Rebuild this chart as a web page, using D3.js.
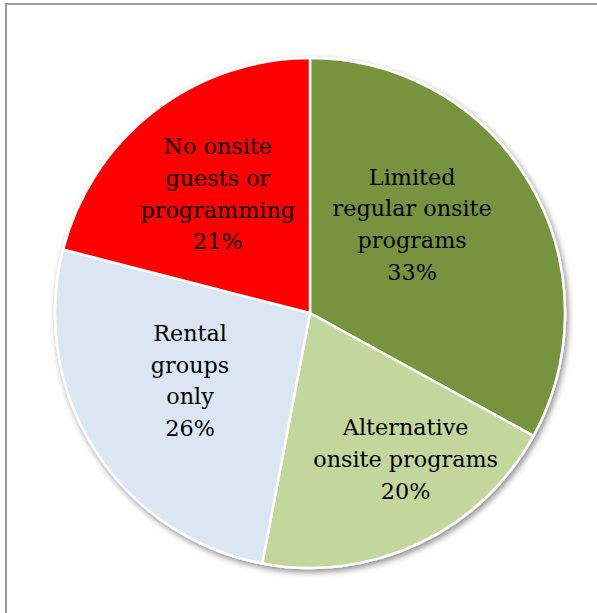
<!DOCTYPE html>
<html>
<head>
<meta charset="utf-8">
<script src="https://cdn.jsdelivr.net/npm/d3@7"></script>
<style>
  html, body { margin: 0; padding: 0; background: #fff; }
  svg { display: block; }
</style>
</head>
<body>
<script>
// ---- data ----
const categories = [
  "Limited regular onsite programs",
  "Alternative onsite programs",
  "Rental groups only",
  "No onsite guests or programming"
];
const values = [33, 20, 26, 21];
const labelLines = [
  ["Limited", "regular onsite", "programs"],
  ["Alternative", "onsite programs"],
  ["Rental", "groups", "only"],
  ["No onsite", "guests or", "programming"]
];
const colors = ["#77933C", "#C3D69B", "#DCE6F2", "#FF0000"];

// ---- layout (not data) ----
const W = 597, H = 613;
const cx = 310, cy = 313, R = 255;
// label anchor: [angle nudge in degrees, radius fraction]
const labelPlace = [[-10.3, 0.53], [-8, 0.685], [3, 0.54], [0, 0.59]];
const lineH = 31.7;

const svg = d3.select("body").append("svg").attr("width", W).attr("height", H);

svg.append("rect").attr("x", 6).attr("y", 4).attr("width", W + 10).attr("height", H + 10)
  .attr("fill", "#fff").attr("stroke", "#9a9a9a").attr("stroke-width", 2);

const defs = svg.append("defs");
const f = defs.append("filter").attr("id", "shadow").attr("x", "-10%").attr("y", "-10%").attr("width", "130%").attr("height", "130%");
f.append("feDropShadow").attr("dx", 2).attr("dy", 3).attr("stdDeviation", 3)
  .attr("flood-color", "#000").attr("flood-opacity", 0.45);

const pie = d3.pie().sort(null).value(d => d)(values);
const arc = d3.arc().innerRadius(0).outerRadius(R);

const g = svg.append("g").attr("transform", `translate(${cx},${cy})`);

g.append("g").attr("filter", "url(#shadow)")
  .selectAll("path").data(pie).join("path")
  .attr("d", arc)
  .attr("fill", (d, i) => colors[i])
  .attr("stroke", "#fff").attr("stroke-width", 2.5).attr("stroke-linejoin", "round");

const total = d3.sum(values);
pie.forEach((d, i) => {
  const mid = (d.startAngle + d.endAngle) / 2 + labelPlace[i][0] * Math.PI / 180;
  const r = R * labelPlace[i][1];
  const x = r * Math.sin(mid), y = -r * Math.cos(mid);
  const lines = labelLines[i].concat([Math.round(values[i] / total * 100) + "%"]);
  const t = g.append("text")
    .attr("text-anchor", "middle")
    .attr("font-family", "'DejaVu Serif', serif")
    .attr("font-size", 22.3)
    .attr("fill", "#000");
  lines.forEach((ln, k) => {
    t.append("tspan").attr("x", x)
      .attr("y", y + (k - (lines.length - 1) / 2) * lineH)
      .attr("dy", "0.35em")
      .text(ln);
  });
});
</script>
</body>
</html>
